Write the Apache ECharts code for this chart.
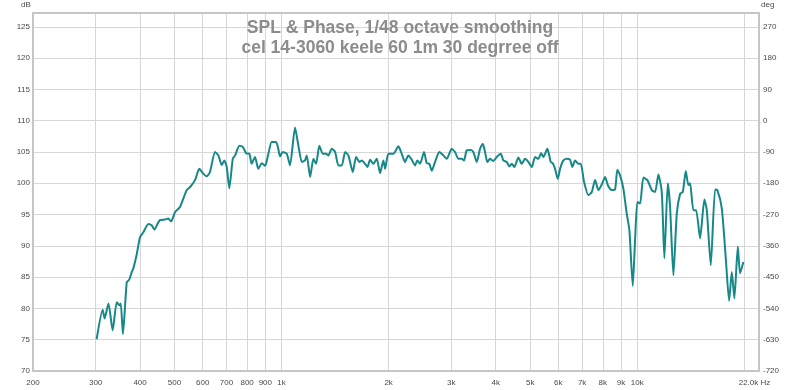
<!DOCTYPE html>
<html>
<head>
<meta charset="utf-8">
<script src="https://cdn.jsdelivr.net/npm/echarts@6/dist/echarts.min.js"></script>
<style>
  html, body { margin: 0; padding: 0; background: #fff; }
  #chart { width: 800px; height: 390px; }
</style>
</head>
<body>
<div id="chart"></div>
<script>
// ---- data ----
const titleLines = ['SPL & Phase, 1/48 octave smoothing', 'cel 14-3060 keele 60 1m 30 degrree off'];

const freqHz = [
  302, 314, 318, 326, 335, 344, 350, 353, 358, 367,
  373, 379, 383, 391, 400, 409, 422, 431, 439, 446,
  455, 470, 480, 489, 502, 518, 541, 553, 571, 587,
  603, 616, 629, 650, 664, 679, 690, 701, 713, 729,
  740, 761, 778, 795, 812, 824, 842, 860, 880, 899,
  918, 938, 965, 979, 990, 1008, 1034, 1056, 1091, 1115,
  1140, 1164, 1177, 1203, 1229, 1250, 1277, 1306, 1334, 1354,
  1384, 1414, 1445, 1477, 1509, 1541, 1586, 1620, 1655, 1681,
  1717, 1743, 1774, 1812, 1852, 1892, 1933, 1955, 1996, 2062,
  2130, 2177, 2224, 2272, 2323, 2373, 2408, 2451, 2515, 2559,
  2603, 2644, 2701, 2777, 2850, 2913, 3009, 3074, 3141, 3210,
  3259, 3316, 3403, 3461, 3538, 3614, 3678, 3733, 3789, 3856,
  3939, 4027, 4133, 4203, 4296, 4369, 4438, 4513, 4632, 4735,
  4837, 4942, 5052, 5161, 5272, 5365, 5446, 5589, 5713, 5788,
  5874, 5978, 6068, 6199, 6337, 6474, 6571, 6687, 6831, 6938,
  7088, 7288, 7451, 7612, 7776, 7949, 8121, 8280, 8481, 8664,
  8794, 8949, 9143, 9346, 9505, 9716, 9862, 10010, 10187, 10407,
  10680, 10989, 11226, 11468, 11723, 11922, 12188, 12371, 12638, 12919,
  13199, 13431, 13695, 13927, 14082, 14386, 14639, 15023, 15447, 15689,
  16100, 16555, 16803, 17290, 17744, 18127, 18447, 18760, 19178, 19463,
  19884
];

const splDb = [
  75.1, 79.8, 78.4, 80.8, 76.5, 81.0, 80.5, 80.8, 75.9, 84.2,
  84.6, 85.8, 86.4, 88.5, 91.4, 92.2, 93.5, 93.3, 92.6, 93.3,
  94.1, 94.2, 94.35, 93.9, 95.4, 96.2, 98.9, 99.4, 100.5, 102.3,
  101.5, 101.1, 101.8, 105.0, 104.45, 102.9, 103.65, 102.6, 99.2, 103.9,
  104.45, 106.0, 105.8, 104.8, 104.7, 103.1, 104.2, 102.3, 103.2, 102.8,
  104.7, 106.6, 106.6, 105.5, 104.3, 105.0, 104.7, 102.85, 108.9, 106.0,
  103.4, 103.65, 104.45, 101.0, 103.9, 103.1, 106.0, 104.7, 104.7, 104.45,
  105.5, 105.0, 102.85, 102.85, 105.0, 104.45, 101.8, 104.2, 103.4, 103.65,
  103.1, 102.6, 103.75, 103.1, 103.9, 101.6, 103.65, 102.3, 104.7, 104.7,
  105.9, 104.7, 103.4, 104.45, 103.75, 102.85, 103.65, 103.1, 105.0, 103.2,
  103.1, 102.0, 103.4, 105.0, 104.45, 103.9, 105.5, 105.0, 103.9, 103.9,
  103.65, 105.25, 105.3, 105.0, 103.4, 105.5, 106.3, 105.0, 103.4, 103.9,
  103.55, 104.2, 104.7, 103.65, 103.4, 102.7, 103.1, 102.6, 104.1, 103.1,
  103.9, 103.4, 102.6, 104.2, 103.9, 104.8, 104.2, 105.5, 103.4, 103.2,
  102.3, 100.7, 102.3, 103.65, 103.9, 103.75, 102.6, 103.65, 103.1, 103.1,
  100.2, 98.1, 98.6, 100.5, 98.9, 99.8, 101.0, 99.6, 98.9, 99.0,
  102.15, 101.25, 99.1, 95.1, 92.5, 83.6, 90.9, 97.0, 96.75, 100.9,
  100.5, 98.9, 98.6, 101.4, 98.6, 88.0, 100.0, 96.2, 85.3, 95.1,
  98.3, 98.6, 101.95, 99.7, 100.0, 95.7, 95.7, 91.2, 97.4, 95.7,
  86.9, 99.0, 98.9, 96.0, 88.0, 81.2, 85.8, 81.6, 89.9, 85.6,
  87.4
];

const freqTicks = [200, 300, 400, 500, 600, 700, 800, 900, 1000, 2000, 3000, 4000, 5000, 6000, 7000, 8000, 9000, 10000, 20000, 22000];
const freqTickLabels = ['200', '300', '400', '500', '600', '700', '800', '900', '1k', '2k', '3k', '4k', '5k', '6k', '7k', '8k', '9k', '10k', '', '22.0k Hz'];
const dbRange = [70, 127.2];
const degRange = [-720, 309.6];

// ---- chart ----
const chart = echarts.init(document.getElementById('chart'), null, { renderer: 'canvas' });
const font = '"Liberation Sans", Arial, sans-serif';
const labelColor = '#4a4a4a';
const gridColor = '#d6d6d6';

const seriesData = freqHz.map((f, i) => [f, splDb[i]]);

chart.setOption({
  animation: false,
  backgroundColor: '#ffffff',
  title: {
    text: titleLines.join('\n'),
    left: 'center',
    top: 13,
    textStyle: {
      fontFamily: font,
      fontSize: 17.5,
      fontWeight: 'bold',
      color: '#8c8c8c',
      lineHeight: 20
    }
  },
  grid: {
    left: 33, right: 41, top: 13, bottom: 19,
    show: true,
    borderColor: '#c6c6c6',
    borderWidth: 2,
    backgroundColor: 'transparent',
    z: 10
  },
  graphic: [
    { type: 'text', left: 21, top: 1, style: { text: 'dB', fontFamily: font, fontSize: 8, fill: labelColor } },
    { type: 'text', left: 761, top: 1, style: { text: 'deg', fontFamily: font, fontSize: 8, fill: labelColor } }
  ],
  xAxis: {
    type: 'log',
    logBase: 10,
    min: 200,
    max: 22000,
    axisLine: { show: false },
    axisTick: { show: false, customValues: freqTicks },
    splitLine: { show: true, lineStyle: { color: gridColor, width: 1 } },
    axisLabel: {
      customValues: freqTicks,
      margin: 8,
      fontFamily: font,
      fontSize: 8,
      color: labelColor,
      showMinLabel: true,
      showMaxLabel: true,
      hideOverlap: false,
      formatter: function (v) {
        const idx = freqTicks.indexOf(Math.round(v));
        const t = idx >= 0 ? freqTickLabels[idx] : '';
        if (t.indexOf('Hz') >= 0) return '{e|' + t + '}';
        return t;
      },
      rich: {
        e: { fontFamily: font, fontSize: 8, color: labelColor, padding: [0, 9, 0, 0] }
      }
    }
  },
  yAxis: [
    {
      type: 'value',
      min: dbRange[0],
      max: dbRange[1],
      interval: 5,
      position: 'left',
      axisLine: { show: false },
      axisTick: { show: false },
      splitLine: { show: true, lineStyle: { color: gridColor, width: 1 } },
      axisLabel: {
        margin: 3,
        fontFamily: font,
        fontSize: 8,
        color: labelColor,
        formatter: function (v) { return (Math.abs(v % 5) < 1e-6) ? String(v) : ''; }
      }
    },
    {
      type: 'value',
      min: degRange[0],
      max: degRange[1],
      interval: 90,
      position: 'right',
      axisLine: { show: false },
      axisTick: { show: false },
      splitLine: { show: false },
      axisLabel: {
        margin: 4,
        fontFamily: font,
        fontSize: 8,
        color: labelColor,
        formatter: function (v) { return (Math.abs(v % 90) < 1e-6) ? String(v) : ''; }
      }
    }
  ],
  series: [
    {
      type: 'line',
      name: 'SPL',
      yAxisIndex: 0,
      data: seriesData,
      showSymbol: false,
      symbol: 'none',
      smooth: 0.2,
      lineStyle: { color: '#178888', width: 2 },
      z: 5
    }
  ]
});
</script>
</body>
</html>
